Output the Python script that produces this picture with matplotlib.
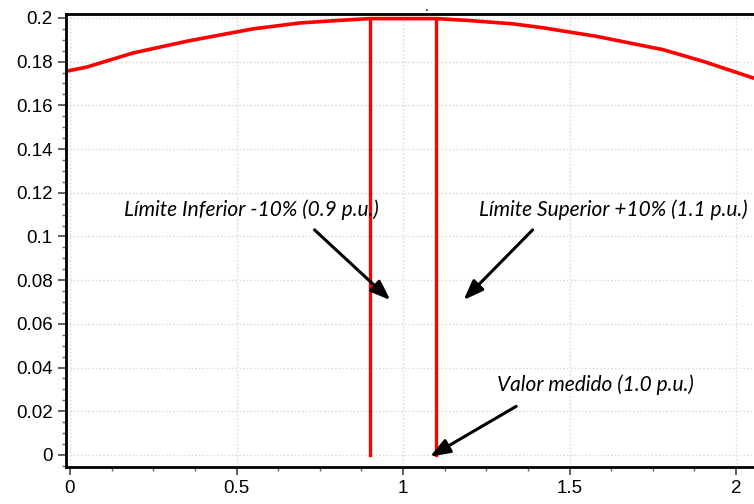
import numpy as np
import matplotlib
matplotlib.use("Agg")
import matplotlib.pyplot as plt
from matplotlib.ticker import MultipleLocator, FormatStrFormatter

# curve
curve_x = [-0.012, 0.05, 0.19, 0.35, 0.44, 0.55, 0.69, 0.79, 0.9, 1.0, 1.1,
           1.2, 1.33, 1.42, 1.58, 1.78, 1.9, 2.05, 2.156]
curve_y = [0.1756, 0.1775, 0.1840, 0.1893, 0.1919, 0.1950, 0.1977, 0.1987, 0.1997,
           0.1997, 0.1997, 0.1988, 0.1973, 0.1955, 0.1916, 0.1855, 0.1802, 0.1726, 0.168]

limits_x = [0.9, 1.1]
limit_top = 0.1997

labels = ["Límite Inferior -10% (0.9 p.u.)",
          "Límite Superior +10% (1.1 p.u.)",
          "Valor medido (1.0 p.u.)"]
label_xy = [(0.545, 0.1121), (1.630, 0.1121), (1.578, 0.032)]
arrow_from = [(0.728, 0.1039), (1.395, 0.1039), (1.347, 0.0229)]
arrow_to = [(0.968, 0.070), (1.176, 0.070), (1.074, -0.0014)]

plt.rcParams['font.family'] = ['Liberation Sans', 'DejaVu Sans']

fig = plt.figure(figsize=(7.54, 5.04), dpi=100)
ax = fig.add_axes([66/754, 1-467/504, (788-66)/754, (467-14)/504])

ax.plot(curve_x, curve_y, color='red', lw=2.6, solid_capstyle='butt')
for xv in limits_x:
    ax.plot([xv, xv], [0, limit_top], color='red', lw=2.4)

for txt, (tx, ty) in zip(labels, label_xy):
    ax.text(tx, ty, txt, ha='center', va='center', fontsize=15,
            style='italic', family=['Lato', 'DejaVu Sans'])
for (x0, y0), (x1, y1) in zip(arrow_from, arrow_to):
    ax.annotate('', xy=(x1, y1), xytext=(x0, y0),
                arrowprops=dict(arrowstyle='-|>,head_length=1.2,head_width=0.45',
                                color='black', lw=2.2))

ax.set_xlim(-0.012, 2.156)
ax.set_ylim(-0.0055, 0.2018)
ax.xaxis.set_major_locator(MultipleLocator(0.5))
ax.xaxis.set_minor_locator(MultipleLocator(0.125))
ax.yaxis.set_major_locator(MultipleLocator(0.02))
ax.yaxis.set_minor_locator(MultipleLocator(0.005))
ax.xaxis.set_major_formatter(FormatStrFormatter('%g'))
ax.yaxis.set_major_formatter(FormatStrFormatter('%g'))
ax.tick_params(which='major', length=6, width=1.2, color='#444444', labelsize=13.5)
ax.tick_params(which='minor', length=3, width=1, color='#666666')
ax.grid(True, which='major', color='#d8d8d8', ls=':', lw=1)
for s in ax.spines.values():
    s.set_linewidth(2)
ax.set_title('.', fontsize=10, pad=2)

fig.savefig('out.png', dpi=100)
